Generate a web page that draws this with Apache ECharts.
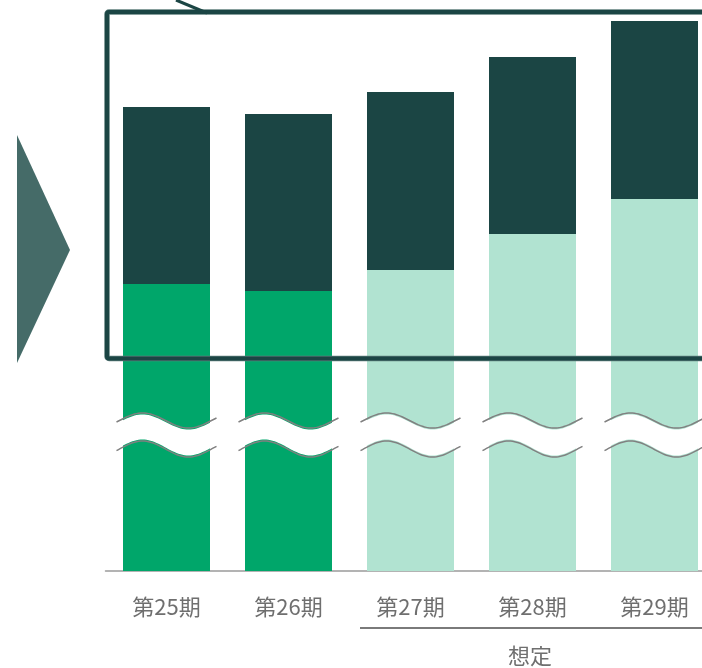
<!DOCTYPE html>
<html>
<head>
<meta charset="utf-8">
<script src="https://cdn.jsdelivr.net/npm/echarts@6/dist/echarts.min.js"></script>
<style>
    html, body { margin: 0; padding: 0; background: #fff; overflow: hidden; }
    /* 右端の棒が見切れるので少し広く取る */
    #chart { width: 716px; height: 668px; }
</style>
</head>
<body>
<div id="chart"></div>
<script>
// 期
var categories = ['第25期', '第26期', '第27期', '第28期', '第29期'];
// 下段（軸は省略あり）
var lowerValues = [287, 280, 301, 337, 372];
// 上段
var upperValues = [177, 177, 178, 177, 178];
// 実績 / 想定
var isForecast = [false, false, true, true, true];

var green = '#00a66a';
var lightGreen = '#b1e3d1';
var dark = '#1b4544';
var gray = '#6f6f6f';

var chart = echarts.init(document.getElementById('chart'));

var option = {
    animation: false,
    textStyle: { fontFamily: '"Noto Sans CJK JP", "Noto Sans", sans-serif' },
    grid: { left: 105.5, right: 0.5, top: 0, bottom: 97 },
    xAxis: {
        type: 'category',
        data: categories,
        axisTick: { show: false },
        axisLine: { lineStyle: { color: '#9a9a9a', width: 1.5 } },
        axisLabel: { color: gray, fontSize: 22, margin: 25 }
    },
    yAxis: {
        type: 'value',
        min: 0,
        max: 571,
        show: false
    },
    series: [
        {
            type: 'bar',
            stack: 'a',
            barWidth: 87,
            data: lowerValues.map(function (v, i) {
                return { value: v, itemStyle: { color: isForecast[i] ? lightGreen : green } };
            })
        },
        {
            type: 'bar',
            stack: 'a',
            barWidth: 87,
            itemStyle: { color: dark },
            data: upperValues
        }
    ]
};
chart.setOption(option);

// 波線（省略記号）
function wave(cx, yc, amp) {
    var pts = [];
    for (var x = cx - 50; x <= cx + 50; x += 2) {
        pts.push([x, yc - amp * Math.cos(2 * Math.PI * (x - (cx - 24)) / 92)]);
    }
    return pts;
}

var graphics = [];
categories.forEach(function (c, i) {
    var cx = chart.convertToPixel({ xAxisIndex: 0 }, c);
    var top = wave(cx, 420.5, 7.5);
    var bottom = wave(cx, 449, 8);
    var band = top.map(function (p) { return [p[0], p[1] + 1.5]; })
        .concat(bottom.slice().reverse().map(function (p) { return [p[0], p[1] - 1.5]; }));
    graphics.push({
        type: 'polygon', z: 100,
        shape: { points: band },
        style: { fill: '#fff' }
    });
    [top, bottom].forEach(function (pts) {
        graphics.push({
            type: 'polyline', z: 101,
            shape: { points: pts },
            style: { stroke: '#808080', lineWidth: 1.5, fill: null }
        });
    });
});

// 枠
graphics.push({
    type: 'rect', z: 102,
    shape: { x: 107, y: 12, width: 620, height: 346.5, r: 2 },
    style: { stroke: '#5f7f7c', lineWidth: 5.5, fill: null }
});
graphics.push({
    type: 'rect', z: 103,
    shape: { x: 107, y: 12, width: 620, height: 346.5, r: 2 },
    style: { stroke: dark, lineWidth: 4, fill: null }
});
graphics.push({
    type: 'line', z: 103,
    shape: { x1: 176, y1: 0, x2: 207, y2: 13 },
    style: { stroke: dark, lineWidth: 3 }
});

// 矢印
graphics.push({
    type: 'polygon',
    shape: { points: [[17, 135], [70, 250], [17, 363]] },
    style: { fill: '#456b68' }
});

// 想定
graphics.push({
    type: 'line',
    shape: { x1: 360, y1: 628, x2: 702, y2: 628 },
    style: { stroke: '#7a7a7a', lineWidth: 2 }
});
graphics.push({
    type: 'text',
    x: 530, y: 656,
    style: {
        text: '想定', fill: gray, fontSize: 22,
        fontFamily: '"Noto Sans CJK JP", sans-serif',
        align: 'center', verticalAlign: 'middle'
    }
});

chart.setOption({ graphic: graphics });
</script>
</body>
</html>
